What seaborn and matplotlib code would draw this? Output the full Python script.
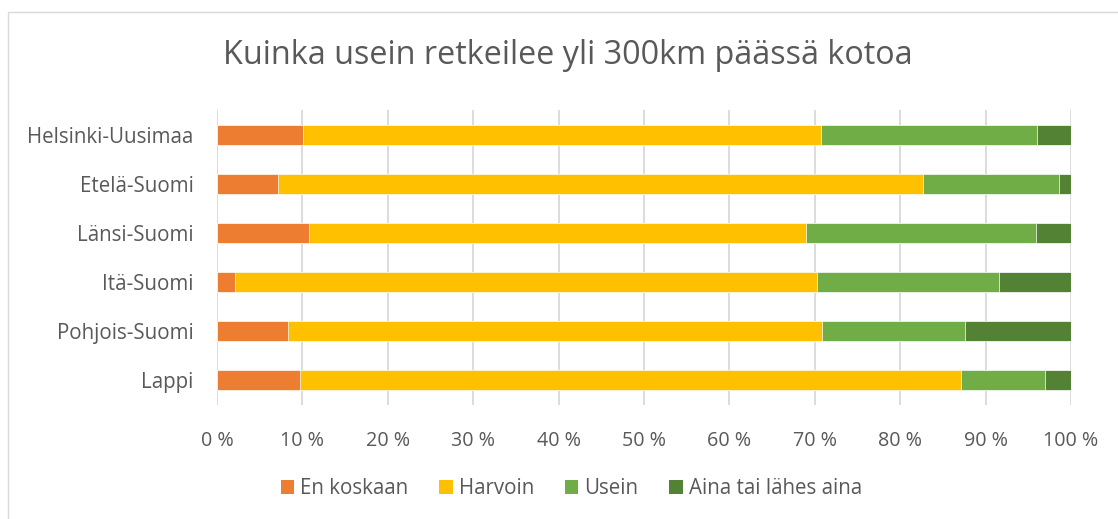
import matplotlib
matplotlib.use("Agg")
import matplotlib.pyplot as plt
from matplotlib.patches import Patch, Rectangle
from matplotlib.ticker import FuncFormatter
import pandas as pd
import seaborn as sns

regions = ["Helsinki-Uusimaa", "Etelä-Suomi", "Länsi-Suomi", "Itä-Suomi", "Pohjois-Suomi", "Lappi"]
series = ["En koskaan", "Harvoin", "Usein", "Aina tai lähes aina"]
en_koskaan = [10.1, 7.1, 10.8, 2.1, 8.3, 9.7]
harvoin = [60.6, 75.6, 58.2, 68.1, 62.5, 77.4]
usein = [25.3, 15.9, 26.9, 21.4, 16.8, 9.8]
aina = [4.0, 1.4, 4.1, 8.4, 12.4, 3.1]
colors = ["#ED7D31", "#FFC000", "#70AD47", "#548235"]

TEXT = "#595959"

df = pd.DataFrame(
    {"alue": regions, "En koskaan": en_koskaan, "Harvoin": harvoin, "Usein": usein, "Aina tai lähes aina": aina}
)
# cumulative sums for the stacked look
cum = df[series].cumsum(axis=1)
cum["alue"] = df["alue"]

sns.set_theme(style="white")
plt.rcParams["font.family"] = ["Open Sans", "DejaVu Sans"]

fig = plt.figure(figsize=(11.18, 5.19), dpi=100)
ax = fig.add_axes([217 / 1118, 1 - 404.5 / 519, (1071 - 217) / 1118, 294 / 519])

for name, color in reversed(list(zip(series, colors))):
    sns.barplot(
        data=cum, x=name, y="alue", order=regions, color=color, orient="h",
        width=0.39, ax=ax, edgecolor="white", linewidth=0.5, saturation=1, zorder=3,
    )

ax.set_xlim(0, 100)
ax.set_ylim(5.5, -0.5)
ax.set_xticks(range(0, 101, 10))
ax.xaxis.set_major_formatter(FuncFormatter(lambda v, _: f"{v:.0f} %"))
ax.grid(axis="x", color="#D9D9D9", linewidth=1.3, zorder=0)
ax.grid(axis="y", visible=False)
ax.set_axisbelow(True)
for s in ax.spines.values():
    s.set_visible(False)
ax.set_xlabel("")
ax.set_ylabel("")
ax.tick_params(axis="x", length=0, pad=19, labelsize=14.2, labelcolor=TEXT)
ax.tick_params(axis="y", length=0, pad=17, labelsize=14.8, labelcolor=TEXT)

fig.text(0.508, 1 - 56 / 519, "Kuinka usein retkeilee yli 300km päässä kotoa",
         ha="center", va="center", fontsize=23.3, color=TEXT)

handles = [Patch(facecolor=c, edgecolor="none") for c in colors]
fig.legend(handles, series, loc="center", bbox_to_anchor=(0.511, 1 - 489 / 519), ncol=4,
           frameon=False, fontsize=14.8, labelcolor=TEXT, handlelength=0.65, handleheight=0.65,
           handletextpad=0.3, columnspacing=1.5)

fig.add_artist(Rectangle((8 / 1118, -0.1), 1.2, 1.1 - 12 / 519, transform=fig.transFigure,
                         fill=False, edgecolor="#D9D9D9", linewidth=1.0))

fig.savefig("out.png", dpi=100)
